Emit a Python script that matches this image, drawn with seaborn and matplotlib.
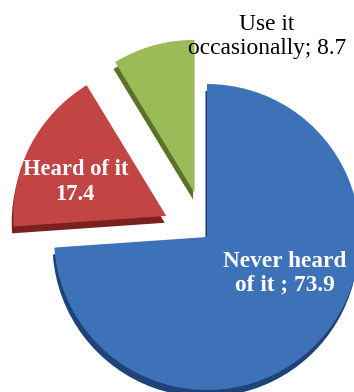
import matplotlib
matplotlib.use("Agg")
import matplotlib.pyplot as plt
import seaborn as sns

categories = ["Never heard\nof it", "Heard of it", "Use it\noccasionally"]
values = [73.9, 17.4, 8.7]
value_labels = ["73.9", "17.4", "8.7"]

sns.set_theme(style="white")
plt.rcParams['font.family'] = ['Liberation Serif', 'DejaVu Serif']

colors = sns.color_palette(["#3D72B8", "#C24543", "#9BBB59"])
dark = sns.color_palette(["#1F4378", "#7A2120", "#5A7329"])
explode = [0, 0.30, 0.30]

fig = plt.figure(figsize=(3.54, 3.92), dpi=100)
ax = fig.add_axes([0, 0, 1, 1])

# depth / shadow layer
ax.pie(values, startangle=90, counterclock=False, explode=explode,
       colors=dark, center=(-0.01, -0.045), radius=1.0,
       wedgeprops=dict(linewidth=0))
ax.pie(values, startangle=90, counterclock=False, explode=explode,
       colors=colors, center=(0.0, 0.0), radius=1.0,
       wedgeprops=dict(linewidth=0))

ax.set_xlim(-1.353, 0.961)
ax.set_ylim(-1.013, 1.549)
ax.set_aspect("equal")
ax.axis("off")

fs = 16.8
ax.text(0.392, 1.31, f"Use it\n{categories[2].split(chr(10))[1]}; {value_labels[2]}",
        ha="center", va="center", fontsize=fs, color="black", linespacing=1.2)
ax.text(-0.86, 0.36, f"{categories[1]}\n{value_labels[1]}",
        ha="center", va="center", fontsize=16.3, color="white",
        fontweight="bold", linespacing=1.2)
ax.text(0.507, -0.239, f"{categories[0]} ; {value_labels[0]}",
        ha="center", va="center", fontsize=fs, color="white",
        fontweight="bold", linespacing=1.15)

fig.savefig("out.png", dpi=100)
